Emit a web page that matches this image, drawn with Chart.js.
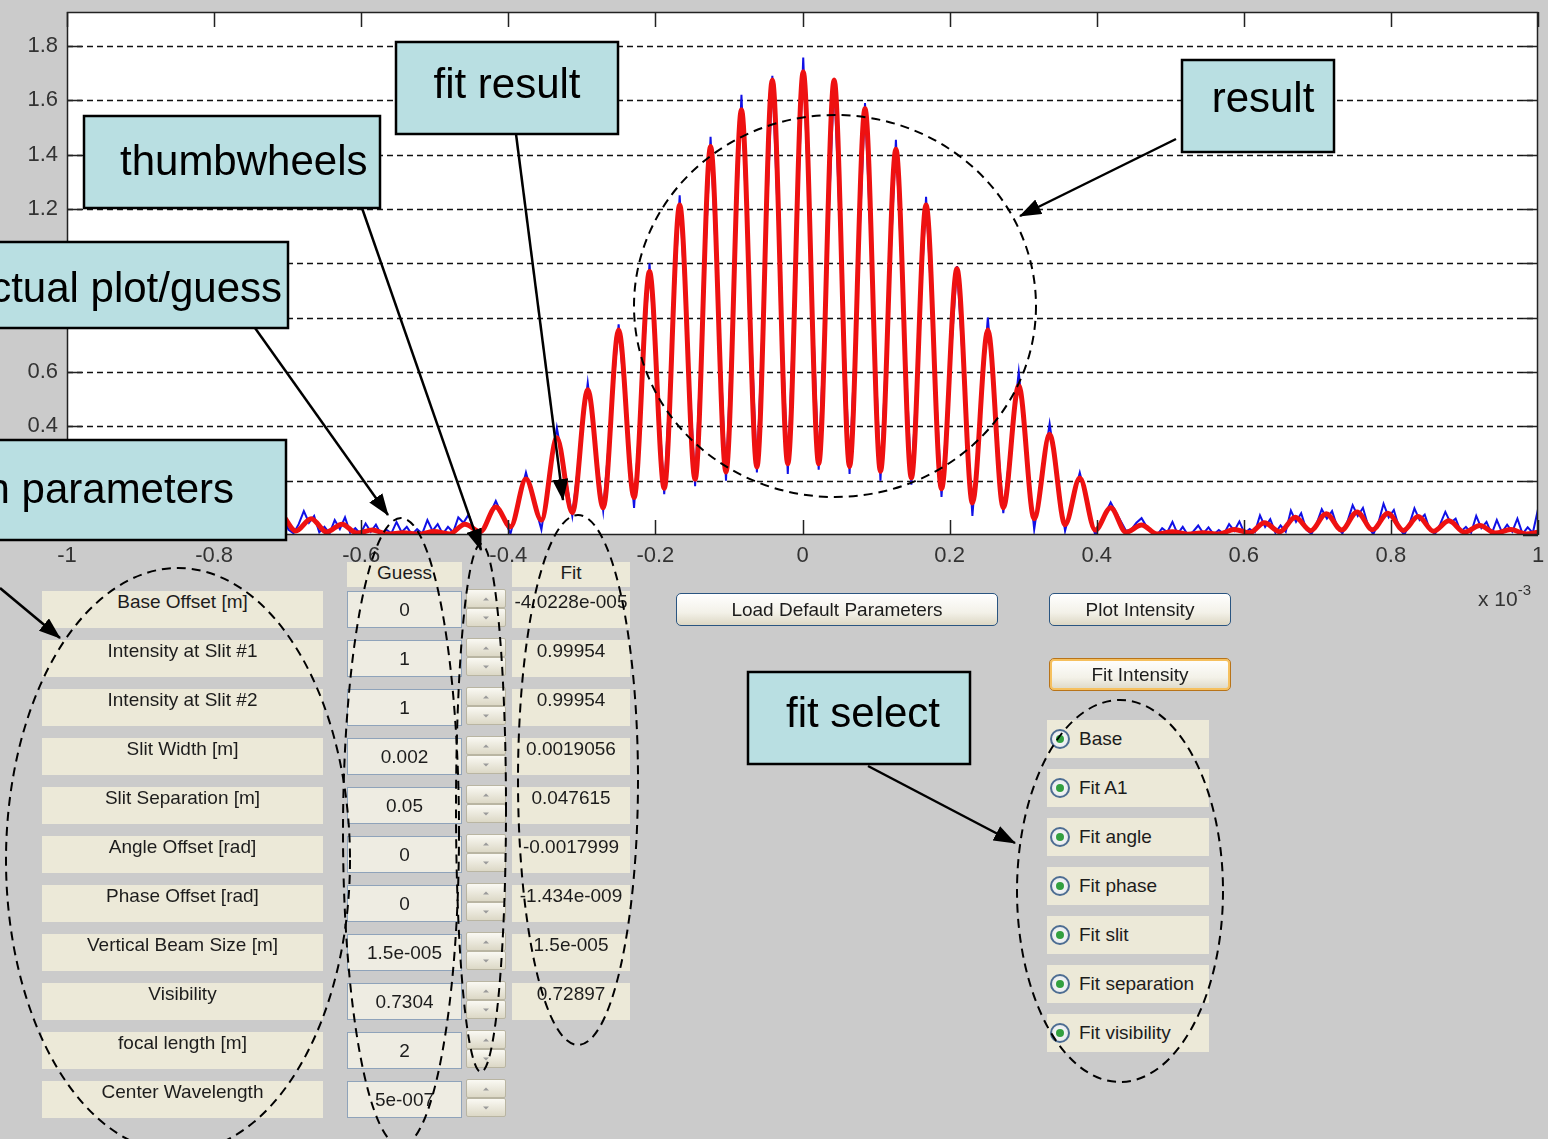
<!DOCTYPE html>
<html>
<head>
<meta charset="utf-8">
<title>Double slit fit GUI</title>
<script src="https://cdn.jsdelivr.net/npm/chart.js@4.4.1/dist/chart.umd.min.js"></script>
<style>
    html, body { margin: 0; padding: 0; }
    body {
        width: 1548px; height: 1139px; position: relative; overflow: hidden;
        background: #cbcbcb; font-family: "Liberation Sans", Arial, sans-serif;
    }
    #plot { position: absolute; left: 0; top: 0; width: 1548px; height: 600px; }
    #gui { position: absolute; left: 0; top: 0; width: 1548px; height: 1139px; }
    #gui div { position: absolute; box-sizing: border-box; }
    .panel {
        background: #ece9d8; color: #1c1c1c; font-size: 19px; line-height: 22px;
        text-align: center; white-space: nowrap; overflow: hidden;
    }
    .edit {
        background: #eeece2; border: 1px solid #8fa3ba; color: #1c1c1c; font-size: 19px;
        line-height: 35px; text-align: center; white-space: nowrap; overflow: hidden;
    }
    .spin div {
        left: 0; width: 100%; height: 50%;
        background: linear-gradient(#faf9f3, #dcd8c6);
        border: 1px solid #b9b5a2; border-radius: 2px;
    }
    .spin .up { top: 0; }
    .spin .dn { bottom: 0; }
    .spin div::after {
        content: ""; position: absolute; left: 50%; top: 50%; transform: translate(-50%, -50%);
        border-left: 3px solid transparent; border-right: 3px solid transparent;
    }
    .spin .up::after { border-bottom: 3px solid #9a9a9a; }
    .spin .dn::after { border-top: 3px solid #9a9a9a; }
    .btn {
        border: 1px solid #2a5581; border-radius: 5px; color: #1c1c1c;
        background: linear-gradient(#ffffff, #f3f1e8 60%, #dcd7c4);
        font-size: 19px; line-height: 31px; text-align: center; white-space: nowrap;
    }
    .btn.focus { border-color: #b8741a; box-shadow: inset 0 0 0 2px #f6c05e; }
    .radio {
        background: #ece9d8; color: #1c1c1c; font-size: 19px; line-height: 38px;
        padding-left: 32px; white-space: nowrap;
    }
    .radio .dot {
        left: 3px; top: 9px; width: 20px; height: 20px; border-radius: 50%;
        border: 2px solid #4d6d92; background: radial-gradient(#ffffff, #dfe3e6);
    }
    .radio .dot::after {
        content: ""; position: absolute; left: 4px; top: 4px; width: 8px; height: 8px;
        border-radius: 50%; background: #33a040;
    }
    #expo { position: absolute; left: 1478px; top: 584px; font-size: 21px; color: #333; }
    #expo sup { font-size: 15px; position: relative; top: -3px; }
    #notes { position: absolute; left: 0; top: 0; pointer-events: none; }
</style>
</head>
<body>
<div id="plot"><canvas id="intensity-chart"></canvas></div>
<div id="gui"></div>
<div id="expo">x 10<sup>-3</sup></div>

<svg id="notes" width="1548" height="1139" xmlns="http://www.w3.org/2000/svg">
    <defs>
        <marker id="ah" markerUnits="userSpaceOnUse" markerWidth="22" markerHeight="16"
                refX="21" refY="8" orient="auto">
            <path d="M0,0 L22,8 L0,16 z" fill="#000"/>
        </marker>
    </defs>
    <!-- dashed ellipses -->
    <g fill="none" stroke="#000" stroke-width="2" stroke-dasharray="9 6">
        <ellipse cx="835" cy="306" rx="201" ry="191"/>
        <ellipse cx="1120" cy="891" rx="103" ry="191"/>
        <ellipse cx="178" cy="860" rx="172" ry="292"/>
        <ellipse cx="401" cy="832" rx="58" ry="314"/>
        <ellipse cx="481" cy="808" rx="25" ry="264"/>
        <ellipse cx="578" cy="780" rx="60" ry="265"/>
    </g>
    <!-- arrows -->
    <g stroke="#000" stroke-width="2.5" marker-end="url(#ah)">
        <line x1="516" y1="134" x2="563" y2="500"/>
        <line x1="362" y1="208" x2="481" y2="550"/>
        <line x1="255" y1="328" x2="388" y2="515"/>
        <line x1="0" y1="588" x2="60" y2="638"/>
        <line x1="1176" y1="139" x2="1020" y2="216"/>
        <line x1="868" y1="766" x2="1015" y2="843"/>
    </g>
    <!-- callout boxes -->
    <g fill="#b9dfe2" stroke="#000" stroke-width="2.5">
        <rect x="396" y="42" width="222" height="92"/>
        <rect x="84" y="116" width="296" height="92"/>
        <rect x="-20" y="242" width="308" height="86"/>
        <rect x="-20" y="440" width="306" height="100"/>
        <rect x="1182" y="60" width="152" height="92"/>
        <rect x="748" y="672" width="222" height="92"/>
    </g>
    <g font-family="Liberation Sans, Arial, sans-serif" font-size="42" fill="#000">
        <text x="507" y="98" text-anchor="middle">fit result</text>
        <text x="120" y="175">thumbwheels</text>
        <text x="282" y="302" text-anchor="end">actual plot/guess</text>
        <text x="234" y="503" text-anchor="end">n parameters</text>
        <text x="1263" y="112" text-anchor="middle">result</text>
        <text x="863" y="727" text-anchor="middle">fit select</text>
    </g>
</svg>

<script>
// ------------------------------------------------------------
// DATA (x in units of 1e-3 m, intensity in arbitrary units)
// ------------------------------------------------------------

// fitted curve: fringe peaks and troughs
const fitX = [
    -1.000, -0.982, -0.961, -0.940, -0.919, -0.898, -0.877, -0.856, -0.835, -0.815,
    -0.794, -0.773, -0.752, -0.731, -0.710, -0.689, -0.668, -0.647, -0.626, -0.606,
    -0.585, -0.564, -0.543, -0.522, -0.501, -0.480, -0.459, -0.438, -0.417, -0.397,
    -0.376, -0.355, -0.334, -0.313, -0.292, -0.271, -0.250, -0.229, -0.208, -0.188,
    -0.167, -0.146, -0.125, -0.104, -0.083, -0.062, -0.041, -0.020, 0.001, 0.022,
    0.043, 0.064, 0.085, 0.106, 0.127, 0.148, 0.168, 0.189, 0.210, 0.231,
    0.252, 0.273, 0.294, 0.315, 0.336, 0.357, 0.377, 0.398, 0.419, 0.440,
    0.461, 0.482, 0.503, 0.524, 0.545, 0.566, 0.587, 0.608, 0.628, 0.649,
    0.670, 0.691, 0.712, 0.733, 0.754, 0.775, 0.796, 0.817, 0.837, 0.858,
    0.879, 0.900, 0.921, 0.942, 0.963, 0.984, 1.000
];
const fitY = [
    0.012, 0.004, 0.018, 0.006, 0.033, 0.010, 0.050, 0.013, 0.066, 0.016,
    0.078, 0.018, 0.082, 0.017, 0.075, 0.015, 0.060, 0.011, 0.040, 0.007,
    0.018, 0.004, 0.008, 0.003, 0.013, 0.004, 0.040, 0.012, 0.103, 0.030,
    0.206, 0.055, 0.358, 0.082, 0.535, 0.100, 0.755, 0.138, 0.970, 0.172,
    1.215, 0.205, 1.430, 0.232, 1.565, 0.250, 1.675, 0.262, 1.705, 0.262,
    1.675, 0.252, 1.570, 0.235, 1.420, 0.210, 1.215, 0.170, 0.980, 0.118,
    0.755, 0.100, 0.550, 0.060, 0.370, 0.038, 0.210, 0.018, 0.100, 0.010,
    0.037, 0.004, 0.012, 0.003, 0.008, 0.004, 0.020, 0.008, 0.045, 0.012,
    0.065, 0.016, 0.078, 0.018, 0.085, 0.019, 0.080, 0.017, 0.068, 0.014,
    0.052, 0.010, 0.035, 0.007, 0.020, 0.004, 0.010
];

// measured intensity (noisy in the tails)
const measX = [
    -1.000, -0.993, -0.986, -0.979, -0.972, -0.965, -0.958, -0.951, -0.944, -0.937,
    -0.930, -0.923, -0.916, -0.909, -0.902, -0.895, -0.888, -0.881, -0.874, -0.867,
    -0.860, -0.853, -0.846, -0.839, -0.832, -0.825, -0.818, -0.811, -0.804, -0.797,
    -0.790, -0.783, -0.776, -0.769, -0.762, -0.755, -0.748, -0.741, -0.734, -0.727,
    -0.720, -0.713, -0.706, -0.699, -0.692, -0.685, -0.678, -0.671, -0.664, -0.657,
    -0.650, -0.643, -0.636, -0.629, -0.622, -0.615, -0.608, -0.601, -0.594, -0.587,
    -0.580, -0.573, -0.566, -0.559, -0.552, -0.545, -0.538, -0.531, -0.524, -0.517,
    -0.510, -0.503, -0.496, -0.489, -0.482, -0.475, -0.468, -0.461, -0.454, -0.447,
    -0.438, -0.417, -0.397, -0.376, -0.355, -0.334, -0.313, -0.292, -0.271, -0.250,
    -0.229, -0.208, -0.188, -0.167, -0.146, -0.125, -0.104, -0.083, -0.062, -0.041,
    -0.020, 0.001, 0.022, 0.043, 0.064, 0.085, 0.106, 0.127, 0.148, 0.168,
    0.189, 0.210, 0.231, 0.252, 0.273, 0.294, 0.315, 0.336, 0.357, 0.377,
    0.398, 0.419, 0.440,
    0.447, 0.454, 0.461, 0.468, 0.475, 0.482, 0.489, 0.496, 0.503, 0.510,
    0.517, 0.524, 0.531, 0.538, 0.545, 0.552, 0.559, 0.566, 0.573, 0.580,
    0.587, 0.594, 0.601, 0.608, 0.615, 0.622, 0.629, 0.636, 0.643, 0.650,
    0.657, 0.664, 0.671, 0.678, 0.685, 0.692, 0.699, 0.706, 0.713, 0.720,
    0.727, 0.734, 0.741, 0.748, 0.755, 0.762, 0.769, 0.776, 0.783, 0.790,
    0.797, 0.804, 0.811, 0.818, 0.825, 0.832, 0.839, 0.846, 0.853, 0.860,
    0.867, 0.874, 0.881, 0.888, 0.895, 0.902, 0.909, 0.916, 0.923, 0.930,
    0.937, 0.944, 0.951, 0.958, 0.965, 0.972, 0.979, 0.986, 0.993, 1.000
];
const measY = [
    0.010, 0.035, 0.004, 0.050, 0.012, 0.030, 0.006, 0.060, 0.015, 0.040,
    0.002, 0.068, 0.028, 0.050, 0.008, 0.032, 0.075, 0.040, 0.095, 0.030,
    0.005, 0.045, 0.102, 0.055, 0.085, 0.022, 0.000, 0.048, 0.118, 0.060,
    0.090, 0.025, 0.004, 0.052, 0.108, 0.068, 0.096, 0.030, 0.002, 0.045,
    0.100, 0.058, 0.082, 0.020, 0.006, 0.040, 0.088, 0.045, 0.070, 0.010,
    0.030, 0.006, 0.055, 0.022, 0.065, 0.008, 0.025, 0.004, 0.042, 0.012,
    0.038, 0.002, 0.020, 0.006, 0.048, 0.010, 0.030, 0.002, 0.022, 0.005,
    0.055, 0.015, 0.040, 0.004, 0.030, 0.010, 0.065, 0.045, 0.075, 0.020,
    0.000, 0.125, 0.005, 0.230, 0.020, 0.395, 0.070, 0.560, 0.090, 0.775,
    0.100, 1.000, 0.150, 1.250, 0.180, 1.466, 0.200, 1.620, 0.230, 1.690,
    0.225, 1.757, 0.240, 1.680, 0.225, 1.590, 0.200, 1.455, 0.185, 1.245,
    0.140, 0.990, 0.070, 0.800, 0.080, 0.600, 0.020, 0.410, 0.015, 0.230,
    0.000, 0.120, 0.015,
    0.020, 0.045, 0.062, 0.030, 0.008, 0.000, 0.025, 0.010, 0.048, 0.004,
    0.030, 0.000, 0.012, 0.035, 0.006, 0.028, 0.002, 0.018, 0.004, 0.040,
    0.015, 0.050, 0.006, 0.022, 0.010, 0.072, 0.030, 0.058, 0.008, 0.035,
    0.012, 0.090, 0.048, 0.080, 0.020, 0.004, 0.042, 0.095, 0.060, 0.088,
    0.030, 0.006, 0.050, 0.110, 0.070, 0.100, 0.035, 0.002, 0.045, 0.115,
    0.065, 0.092, 0.028, 0.000, 0.038, 0.098, 0.055, 0.075, 0.018, 0.004,
    0.040, 0.085, 0.045, 0.060, 0.012, 0.030, 0.008, 0.070, 0.025, 0.048,
    0.004, 0.055, 0.010, 0.038, 0.012, 0.060, 0.004, 0.028, 0.008, 0.095
];

const xTickValues = [-1, -0.8, -0.6, -0.4, -0.2, 0, 0.2, 0.4, 0.6, 0.8, 1];
const yTickValues = [0, 0.2, 0.4, 0.6, 0.8, 1, 1.2, 1.4, 1.6, 1.8];
const yMax = 1.925;

// GUI texts
const paramLabels = [
    "Base Offset [m]", "Intensity at Slit #1", "Intensity at Slit #2", "Slit Width [m]",
    "Slit Separation [m]", "Angle Offset [rad]", "Phase Offset [rad]",
    "Vertical Beam Size [m]", "Visibility", "focal length [m]", "Center Wavelength"
];
const guessValues = ["0", "1", "1", "0.002", "0.05", "0", "0", "1.5e-005", "0.7304", "2", "5e-007"];
const fitValues = ["-4.0228e-005", "0.99954", "0.99954", "0.0019056", "0.047615",
    "-0.0017999", "-1.434e-009", "1.5e-005", "0.72897"];
const fitOptions = ["Base", "Fit A1", "Fit angle", "Fit phase", "Fit slit", "Fit separation", "Fit visibility"];

const FONT = "Liberation Sans, Arial, sans-serif";

// ------------------------------------------------------------
// MATLAB-style axes box: white background, dashed y grid, inner ticks
// ------------------------------------------------------------
const matlabAxes = {
    id: "matlabAxes",
    beforeDraw(chart) {
        const { ctx, chartArea: a } = chart;
        ctx.save();
        ctx.fillStyle = "#ffffff";
        ctx.fillRect(a.left, a.top, a.right - a.left, a.bottom - a.top);
        ctx.restore();
    },
    beforeDatasetsDraw(chart) {
        const { ctx, chartArea: a, scales } = chart;
        ctx.save();
        ctx.strokeStyle = "#111";
        ctx.lineWidth = 1.3;
        ctx.setLineDash([6, 4]);
        scales.y.ticks.forEach(t => {
            if (t.value === 0) return;
            const py = Math.round(scales.y.getPixelForValue(t.value)) + 0.5;
            ctx.beginPath();
            ctx.moveTo(a.left, py);
            ctx.lineTo(a.right, py);
            ctx.stroke();
        });
        ctx.restore();
    },
    afterDatasetsDraw(chart) {
        const { ctx, chartArea: a, scales } = chart;
        const len = 15;
        ctx.save();
        ctx.strokeStyle = "#222";
        ctx.lineWidth = 1.5;
        ctx.beginPath();
        scales.x.ticks.forEach(t => {
            const px = Math.round(scales.x.getPixelForValue(t.value)) + 0.5;
            ctx.moveTo(px, a.bottom); ctx.lineTo(px, a.bottom - len);
            ctx.moveTo(px, a.top); ctx.lineTo(px, a.top + len);
        });
        scales.y.ticks.forEach(t => {
            const py = Math.round(scales.y.getPixelForValue(t.value)) + 0.5;
            ctx.moveTo(a.left, py); ctx.lineTo(a.left + len, py);
            ctx.moveTo(a.right, py); ctx.lineTo(a.right - len, py);
        });
        ctx.stroke();
        ctx.strokeRect(a.left + 0.5, a.top + 0.5, a.right - a.left - 1, a.bottom - a.top - 1);
        ctx.restore();
    }
};

// keep chart area exactly where the MATLAB axes sit
function noScalePadding(s) {
    s.paddingTop = 0;
    s.paddingBottom = 0;
    s.paddingLeft = 0;
    s.paddingRight = 0;
}

function initIntensityChart() {
    const ctx = document.getElementById("intensity-chart").getContext("2d");

    new Chart(ctx, {
        type: "line",
        data: {
            datasets: [
                {
                    label: "Fit",
                    data: fitX.map((x, i) => ({ x: x, y: fitY[i] })),
                    borderColor: "#ee1111",
                    borderWidth: 5,
                    cubicInterpolationMode: "monotone",
                    pointRadius: 0,
                    order: 0
                },
                {
                    label: "Measured",
                    data: measX.map((x, i) => ({ x: x, y: measY[i] })),
                    borderColor: "#1010e6",
                    borderWidth: 2,
                    tension: 0,
                    pointRadius: 0,
                    order: 1
                }
            ]
        },
        options: {
            responsive: true,
            maintainAspectRatio: false,
            animation: false,
            devicePixelRatio: 1,
            layout: { padding: { top: 12, right: 10, left: 0, bottom: 0 } },
            plugins: {
                legend: { display: false },
                tooltip: { enabled: false }
            },
            scales: {
                x: {
                    type: "linear",
                    min: -1,
                    max: 1,
                    grid: { display: false, drawTicks: false },
                    border: { display: false },
                    afterBuildTicks: s => { s.ticks = xTickValues.map(v => ({ value: v })); },
                    afterFit: s => { s.height = 65; noScalePadding(s); },
                    ticks: {
                        padding: 8,
                        color: "#333",
                        maxRotation: 0,
                        autoSkip: false,
                        font: { family: FONT, size: 22 },
                        callback: v => String(Math.round(v * 10) / 10)
                    }
                },
                y: {
                    min: 0,
                    max: yMax,
                    grid: { display: false, drawTicks: false },
                    border: { display: false },
                    afterBuildTicks: s => { s.ticks = yTickValues.map(v => ({ value: v })); },
                    afterFit: s => { s.width = 67; noScalePadding(s); },
                    ticks: {
                        padding: 9,
                        color: "#333",
                        font: { family: FONT, size: 22 },
                        callback: v => String(Math.round(v * 10) / 10)
                    }
                }
            }
        },
        plugins: [matlabAxes]
    });
}

// ------------------------------------------------------------
// GUI controls under the plot
// ------------------------------------------------------------
function addBox(cls, left, top, w, h, text) {
    const d = document.createElement("div");
    d.className = cls;
    d.style.left = left + "px";
    d.style.top = top + "px";
    d.style.width = w + "px";
    d.style.height = h + "px";
    if (text !== undefined) d.textContent = text;
    document.getElementById("gui").appendChild(d);
    return d;
}

function buildGui() {
    addBox("panel", 347, 562, 115, 25, "Guess");
    addBox("panel", 512, 562, 118, 25, "Fit");

    paramLabels.forEach((t, i) => addBox("panel", 42, 591 + 49 * i, 281, 37, t));

    guessValues.forEach((t, i) => {
        addBox("edit", 347, 591 + 49 * i, 115, 37, t);
        const s = addBox("spin", 466, 589 + 49 * i, 40, 38);
        s.innerHTML = '<div class="up"></div><div class="dn"></div>';
    });

    fitValues.forEach((t, i) => addBox("panel", 512, 591 + 49 * i, 118, 37, t));

    addBox("btn", 676, 593, 322, 33, "Load Default Parameters");
    addBox("btn", 1049, 593, 182, 33, "Plot Intensity");
    addBox("btn focus", 1049, 658, 182, 33, "Fit Intensity");

    fitOptions.forEach((t, i) => {
        const r = addBox("radio", 1047, 720 + 49 * i, 162, 38);
        r.innerHTML = '<div class="dot"></div>' + t;
    });
}

document.addEventListener("DOMContentLoaded", () => {
    buildGui();
    initIntensityChart();
});
</script>
</body>
</html>
